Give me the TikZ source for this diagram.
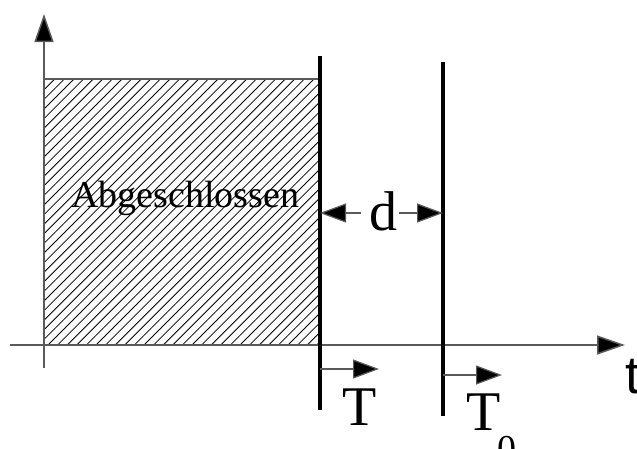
\documentclass[tikz,border=0pt]{standalone}
\usepackage{fontspec}
\setmainfont{Liberation Serif}
\newfontfamily\sansf{Liberation Sans}
\usetikzlibrary{arrows.meta}
\definecolor{axisgray}{HTML}{5A5A5A}
\tikzset{
  axis/.style={draw=axisgray, line width=1.5pt, -{Triangle[length=28pt,width=19pt,fill=black]}},
  thinarrow/.style={draw=axisgray, line width=1.2pt, -{Triangle[length=26pt,width=19pt,fill=black]}},
  thickline/.style={draw=black, line width=3.6pt},
  hatch/.style={draw=black, line width=0.8pt},
  lbl/.style={inner sep=0pt, anchor=base west, font=\fontsize{56}{60}\selectfont},
}
\begin{document}
\begin{tikzpicture}[x=1pt,y=-1pt]
\useasboundingbox (0,0) rectangle (637,448);
% coordinates
\coordinate (yb) at (44,368);
\coordinate (yt) at (44,14);
\coordinate (xl) at (10,345);
\coordinate (xr) at (625,345);
\coordinate (rtl) at (44,79);
\coordinate (rtr) at (320,79);
\coordinate (Ttop) at (320,56);
\coordinate (Tbot) at (320,410);
\coordinate (T0top) at (443,62);
\coordinate (T0bot) at (443,416);
\coordinate (dL) at (320,213);
\coordinate (dR) at (443,213);
\coordinate (Ta) at (320,369);
\coordinate (Tae) at (379,369);
\coordinate (T0a) at (443,375);
\coordinate (T0ae) at (502,375);
% hatching
\begin{scope}
\clip (44,79) rectangle (320,345);
\foreach \i in {-28,...,34} {
  \draw[hatch] (\i*9.6,345) -- ++(266,-266);
}
\end{scope}
\draw[draw=axisgray, line width=1.3pt] (rtl) -- (rtr);
% axes
\draw[axis] (yb) -- (yt);
\draw[axis] (xl) -- (xr);
% thick lines
\draw[thickline] (Ttop) -- (Tbot);
\draw[thickline] (T0top) -- (T0bot);
% labels
\node[lbl, font=\fontsize{38}{40}\selectfont] (abg) at (71,207) {Abgeschlossen};
\node[lbl] (d) at (369,230) {d};
\node[lbl] (T) at (342,425) {T};
\node[lbl] (T0) at (466,430) {T};
\node[inner sep=0pt, anchor=base west, font=\fontsize{38}{40}\selectfont] (sub0) at (497,461) {0};
\node[inner sep=0pt, anchor=base west, font=\sansf\fontsize{53}{56}\selectfont] (t) at (625,393) {t};
% d arrows
\draw[thinarrow] (d.west |- dL) ++(-8,0) coordinate (dl1) -- (dL);
\draw[thinarrow] (d.east |- dR) ++(2,0) coordinate (dr1) -- (dR);
% T arrows
\draw[thinarrow] (Ta) -- (Tae);
\draw[thinarrow] (T0a) -- (T0ae);
\end{tikzpicture}
\end{document}
